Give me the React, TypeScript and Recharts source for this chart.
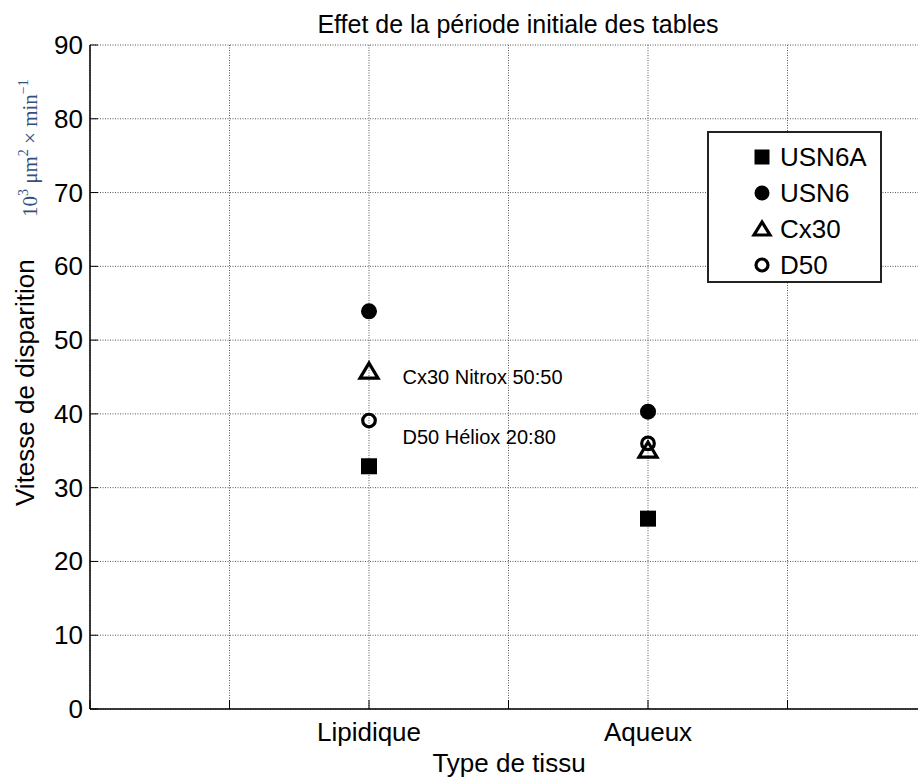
import React from "react";
import {
  ScatterChart,
  Scatter,
  XAxis,
  YAxis,
  CartesianGrid,
  ReferenceDot,
} from "recharts";

// ---- data ----
const categories = ["Lipidique", "Aqueux"];
const categoryPositions = [2, 4];
const xTicks = [0, 1, 2, 3, 4, 5, 6];
const yTicks = [0, 10, 20, 30, 40, 50, 60, 70, 80, 90];

const usn6aValues = [32.9, 25.8];
const usn6Values = [53.9, 40.3];
const cx30Values = [45.8, 35.1];
const d50Values = [39.1, 36.0];

const seriesNames = ["USN6A", "USN6", "Cx30", "D50"];

const annotations = [
  { text: "Cx30 Nitrox 50:50", x: 2.24, y: 45.0 },
  { text: "D50 Héliox 20:80", x: 2.24, y: 36.9 },
];

const title = "Effet de la période initiale des tables";
const xLabel = "Type de tissu";
const yLabel = "Vitesse de disparition";

const toPoints = (vals: number[]) =>
  vals.map((v, i) => ({ x: categoryPositions[i], y: v, cat: categories[i] }));

const FONT = "Arial, 'Liberation Sans', Helvetica, sans-serif";

// ---- marker shapes ----
const SquareMark = (size: number) => (p: any) => (
  <rect x={p.cx - size / 2} y={p.cy - size / 2} width={size} height={size} fill="#000" />
);
const DotMark = (r: number) => (p: any) => <circle cx={p.cx} cy={p.cy} r={r} fill="#000" />;
const RingMark = (r: number, sw: number) => (p: any) => (
  <circle cx={p.cx} cy={p.cy} r={r} fill="none" stroke="#000" strokeWidth={sw} />
);
const TriMark = (w: number, h: number, sw: number) => (p: any) => (
  <polygon
    points={`${p.cx},${p.cy - h / 2 - 1} ${p.cx - w / 2},${p.cy + h / 2} ${p.cx + w / 2},${p.cy + h / 2}`}
    fill="none"
    stroke="#000"
    strokeWidth={sw}
    strokeLinejoin="miter"
  />
);

const shapes = [SquareMark(16), DotMark(8), TriMark(18, 14, 3.2), RingMark(6.3, 3.2)];
const legendShapes = [SquareMark(15), DotMark(7.5), TriMark(16, 12, 3.2), RingMark(6, 3.2)];
const seriesData = [usn6aValues, usn6Values, cx30Values, d50Values].map(toPoints);

// ---- ticks ----
const XTick = (props: any) => {
  const { x, y, payload } = props;
  const idx = categoryPositions.indexOf(payload.value);
  const label = idx >= 0 ? categories[idx] : "";
  return (
    <g>
      <line x1={x} x2={x} y1={y} y2={y - 9} stroke="#000" strokeWidth={1} />
      {label && (
        <text x={x} y={y + 32} textAnchor="middle" fontSize={26} fontFamily={FONT} fill="#000">
          {label}
        </text>
      )}
    </g>
  );
};

const YTick = (props: any) => {
  const { x, y, payload } = props;
  return (
    <g>
      <line x1={x} x2={x + 8} y1={y} y2={y} stroke="#000" strokeWidth={1} />
      <text x={x - 7} y={y + 9} textAnchor="end" fontSize={26} fontFamily={FONT} fill="#000">
        {payload.value}
      </text>
    </g>
  );
};

const LegendBox = () => (
  <div
    style={{
      position: "absolute",
      left: 707,
      top: 131,
      width: 175,
      height: 152,
      border: "2px solid #222",
      background: "#fff",
      boxSizing: "border-box",
    }}
  >
    {seriesNames.map((name, i) => {
      const top = 9 + i * 36;
      const Shape = legendShapes[i];
      return (
        <div
          key={name}
          style={{ position: "absolute", left: 39, top, height: 30, display: "flex", alignItems: "center" }}
        >
          <svg width={28} height={30} style={{ display: "block" }}>
            <Shape cx={14} cy={15} />
          </svg>
          <span style={{ fontFamily: FONT, fontSize: 26, color: "#000", marginLeft: 4, lineHeight: "30px" }}>
            {name}
          </span>
        </div>
      );
    })}
  </div>
);

const AnnotationLabel = (text: string) => (props: any) => {
  const vb = props.viewBox || {};
  return (
    <text x={vb.x} y={vb.y + 7} fontSize={20} fontFamily={FONT} fill="#000" textAnchor="start">
      {text}
    </text>
  );
};

export default function App() {
  const unitColor = "#34507e";
  return (
    <div style={{ position: "absolute", left: 0, top: 0, width: 918, height: 784, overflow: "hidden", background: "#fff" }}>
      <ScatterChart width={930} height={784} margin={{ top: 45, right: 3, bottom: 0, left: 0 }}>
        <CartesianGrid stroke="#555" strokeDasharray="1 1.5" strokeWidth={1} />
        <XAxis
          type="number"
          dataKey="x"
          domain={[0, 6]}
          ticks={xTicks}
          interval={0}
          height={75}
          tickSize={0}
          tickMargin={0}
          tickLine={false}
          axisLine={{ stroke: "#000", strokeWidth: 1.5 }}
          tick={<XTick />}
          allowDataOverflow
        />
        <YAxis
          type="number"
          dataKey="y"
          domain={[0, 90]}
          ticks={yTicks}
          interval={0}
          width={90}
          tickSize={0}
          tickMargin={0}
          tickLine={false}
          axisLine={{ stroke: "#000", strokeWidth: 1.5 }}
          tick={<YTick />}
          allowDataOverflow
        />
        {seriesData.map((d, i) => (
          <Scatter
            key={seriesNames[i]}
            name={seriesNames[i]}
            data={d}
            shape={shapes[i]}
            isAnimationActive={false}
          />
        ))}
        {annotations.map((a) => (
          <ReferenceDot
            key={a.text}
            x={a.x}
            y={a.y}
            r={0}
            fill="none"
            stroke="none"
            ifOverflow="visible"
            label={{ content: AnnotationLabel(a.text) }}
          />
        ))}
        <text x={518} y={33} textAnchor="middle" fontSize={25} fontFamily={FONT} fill="#000">
          {title}
        </text>
        <text x={509} y={772} textAnchor="middle" fontSize={26} fontFamily={FONT} fill="#000">
          {xLabel}
        </text>
        <text
          x={34}
          y={506}
          transform="rotate(-90 34 506)"
          textAnchor="start"
          fontSize={26}
          fontFamily={FONT}
          fill="#000"
        >
          {yLabel}
        </text>
        <text
          x={37}
          y={217}
          transform="rotate(-90 37 217)"
          textAnchor="start"
          fontSize={21}
          fontFamily="'Liberation Serif', 'DejaVu Serif', serif"
          fill={unitColor}
        >
          <tspan>10</tspan>
          <tspan dy={-9} fontSize={14}>3</tspan>
          <tspan dy={9}>{"\u00a0\u03bcm"}</tspan>
          <tspan dy={-9} fontSize={14}>2</tspan>
          <tspan dy={9}>{"\u00a0×\u00a0min"}</tspan>
          <tspan dy={-9} fontSize={14}>{"\u22121"}</tspan>
        </text>
      </ScatterChart>
      <LegendBox />
    </div>
  );
}
